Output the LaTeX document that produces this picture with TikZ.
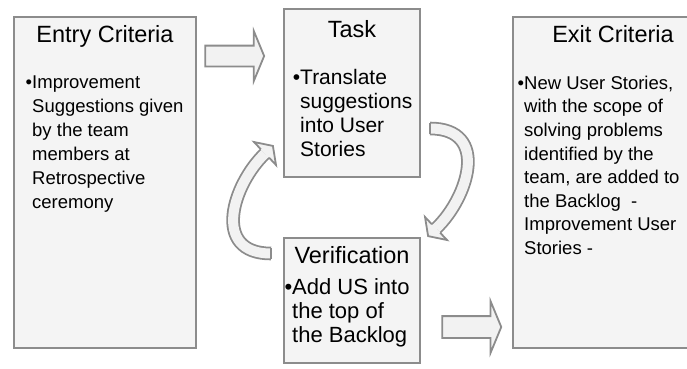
\documentclass[tikz,border=0pt]{standalone}
\usepackage{fontspec}
\setmainfont{Liberation Sans}
\usepackage{tikz}
\usetikzlibrary{positioning}
\usetikzlibrary{shapes.arrows}

\definecolor{boxline}{RGB}{140,140,140}
\definecolor{boxfill}{RGB}{244,244,244}
\definecolor{arrowline}{RGB}{140,140,140}
\definecolor{arrowfill}{RGB}{242,242,242}

\tikzset{
    stagebox/.style={rectangle, draw=boxline, fill=boxfill, line width=2pt, inner sep=0pt, anchor=north west},
    stagetitle/.style={inner sep=0pt, font=\fontsize{23.5}{28}\selectfont},
    stagetext/.style={inner sep=0pt, anchor=north west, align=left},
    blockarrow/.style={single arrow, draw=arrowline, fill=arrowfill, line width=1.8pt, inner xsep=0pt, inner ysep=9.5pt, minimum height=59pt, single arrow head extend=14.5pt, single arrow tip angle=135},
    bendarrow/.style={line width=1.8pt, draw=arrowline}
}

\begin{document}
\begin{tikzpicture}[x=1pt, y=-1pt]
    \useasboundingbox (0,0) rectangle (687,368);
    \clip (0,0) rectangle (687,368);

    \node [stagebox, minimum width=182pt, minimum height=331pt] (entry) at (13,16) {};
    \node [stagebox, minimum width=136pt, minimum height=168pt] (task) at (283,8) {};
    \node [stagebox, minimum width=136pt, minimum height=125pt] (verif) at (283,237) {};
    \node [stagebox, minimum width=200pt, minimum height=331pt] (exit) at (512,16) {};

    \node [stagetitle, below=26pt of entry.north, anchor=base] (entrytitle) {Entry Criteria};
    \node [stagetitle, below=29pt of task.north, anchor=base] (tasktitle) {Task};
    \node [stagetitle, below=26pt of verif.north, anchor=base] (veriftitle) {Verification};
    \node [stagetitle, below=26pt of exit.north, anchor=base] (exittitle) {Exit Criteria};

    \node [stagetext, font=\fontsize{18.5}{24}\selectfont, below right=59.7pt and 19pt of entry.north west] (entrytext)
        {\llap{•}Improvement\\Suggestions given\\by the team\\members at\\Retrospective\\ceremony};
    \node [stagetext, font=\fontsize{21}{24}\selectfont, below right=60.9pt and 17pt of task.north west] (tasktext)
        {\llap{•}Translate\\suggestions\\into User\\Stories};
    \node [stagetext, font=\fontsize{22}{24}\selectfont, below right=41.2pt and 9pt of verif.north west] (veriftext)
        {\llap{•}Add US into\\the top of\\the Backlog};
    \node [stagetext, font=\fontsize{18.5}{23.6}\selectfont, below right=59.7pt and 12pt of exit.north west] (exittext)
        {\llap{•}New User Stories,\\with the scope of\\solving problems\\identified by the\\team, are added to\\the Backlog~ -\\Improvement User\\Stories -};

    % straight block arrows
    \node [blockarrow] (totask) at (232.5,56) {};
    \node [blockarrow, single arrow head extend=15pt, inner ysep=10pt] (toexit) at (469.5,327) {};

    % the two bent arrows between task and verification
    \foreach \turn in {0,180} {
        \begin{scope}[rotate around={\turn:(350.5,191)}]
            \draw [bendarrow, double=arrowfill, double distance=10pt] (430,128.5) .. controls (490,128.5) and (468.4,197.5) .. (436,228.5);
            \fill [arrowfill] (425,217) -- (428.1,236.1) -- (447,240) -- cycle;
            \draw [bendarrow] (431.9,224.3) -- (425,217) -- (428.1,236.1) -- (447,240) -- (440.1,232.7);
            \draw [bendarrow] (430,122.6) -- (430,134.4);
        \end{scope}
    }
\end{tikzpicture}
\end{document}
